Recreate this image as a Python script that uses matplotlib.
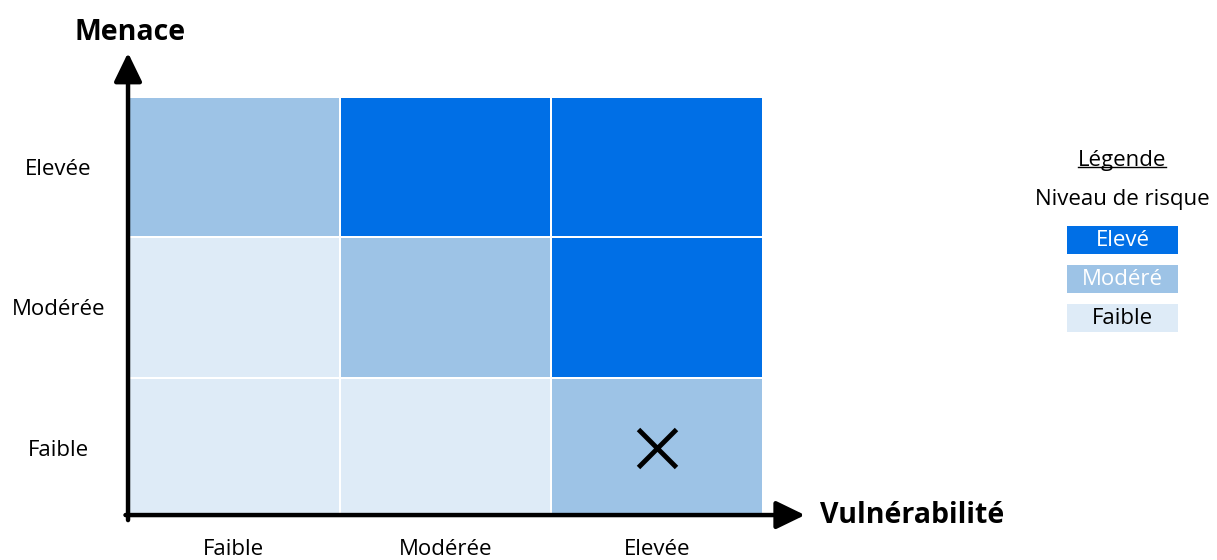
import matplotlib.pyplot as plt
from matplotlib.colors import ListedColormap
from matplotlib.lines import Line2D
import numpy as np

plt.rcParams['font.family'] = ['Open Sans', 'DejaVu Sans']

# risk level per cell: rows = menace (Faible -> Elevée), cols = vulnérabilité
levels = ['Faible', 'Modérée', 'Elevée']
risk = [
    [0, 0, 1],
    [0, 1, 2],
    [1, 2, 2],
]
risk_names = ['Faible', 'Modéré', 'Elevé']
risk_colors = ['#DEEBF7', '#9DC3E6', '#006FE6']
risk_text = ['black', 'white', 'white']

# current position in the matrix (vulnérabilité, menace)
marker_pos = ('Elevée', 'Faible')

fig = plt.figure(figsize=(12.17, 5.6), dpi=100)
ax = fig.add_axes([0.1052, 0.075, 0.5218, 0.7518])

cmap = ListedColormap(risk_colors)
ax.pcolormesh(np.array(risk), cmap=cmap, vmin=-0.5, vmax=2.5,
              edgecolors='white', linewidth=1.3)
ax.set_xlim(0, 3)
ax.set_ylim(0, 3)

for s in ax.spines.values():
    s.set_visible(False)

ax.set_xticks(np.arange(3) + 0.5, levels)
ax.set_yticks(np.arange(3) + 0.5, levels)
ax.tick_params(length=0, labelsize=16)
ax.tick_params(axis='x', pad=15)
ax.tick_params(axis='y', pad=50)
for lab in ax.get_yticklabels():
    lab.set_ha('center')

# axis arrows
arrow = dict(arrowstyle='-|>,head_length=1.75,head_width=0.85', lw=3.2,
             color='black', shrinkA=0, shrinkB=0)
ax.annotate('', xy=(0.0, 1.105), xytext=(0.0, -0.005),
            xycoords='axes fraction', arrowprops=arrow, annotation_clip=False)
ax.annotate('', xy=(1.066, 0.007), xytext=(-0.004, 0.007),
            xycoords='axes fraction', arrowprops=arrow, annotation_clip=False)

ax.text(-0.084, 1.152, 'Menace', transform=ax.transAxes, fontsize=20.5,
        fontweight='bold', ha='left', va='center')
ax.text(1.089, 0.007, 'Vulnérabilité', transform=ax.transAxes,
        fontsize=20.5, fontweight='bold', ha='left', va='center')

mx = levels.index(marker_pos[0]) + 0.5
my = levels.index(marker_pos[1]) + 0.5
ax.plot(mx, my, marker='x', markersize=27, markeredgewidth=3.5,
        color='black')

# legend
lax = fig.add_axes([0.8767, 0.4071, 0.0912, 0.189])
order = [2, 1, 0]
lax.barh(range(3), [1] * 3, height=0.72,
         color=[risk_colors[i] for i in order])
for y, i in enumerate(order):
    lax.text(0.5, y, risk_names[i], ha='center', va='center', fontsize=16,
             color=risk_text[i])
lax.set_xlim(0, 1)
lax.set_ylim(2.36, -0.36)
lax.axis('off')

title = fig.text(0.922, 0.714, 'Légende', ha='center', va='center',
                 fontsize=16)
fig.text(0.922, 0.643, 'Niveau de risque', ha='center', va='center',
         fontsize=16)

# underline the legend title
fig.canvas.draw()
bb = title.get_window_extent().transformed(fig.transFigure.inverted())
fig.add_artist(Line2D([bb.x0, bb.x1], [bb.y0 + 0.006, bb.y0 + 0.006],
                      color='black', lw=1, transform=fig.transFigure))

fig.savefig('out.png', dpi=100)
